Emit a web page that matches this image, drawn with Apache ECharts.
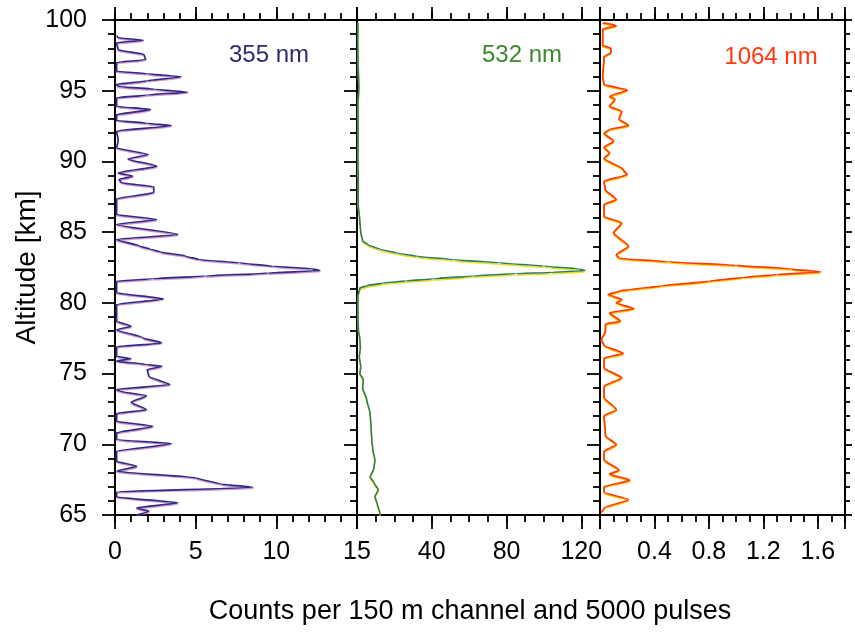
<!DOCTYPE html>
<html><head><meta charset="utf-8">
<script src="https://cdn.jsdelivr.net/npm/echarts@6/dist/echarts.min.js"></script>
<style>html,body{margin:0;padding:0;background:#fff}#c{width:855px;height:636px}</style>
</head><body><div id="c"></div>
<script>
// ---- data ----
const altitudeTicks = [65, 70, 75, 80, 85, 90, 95, 100];
const ticks355 = [0, 5, 10, 15];
const ticks532 = [40, 80, 120];
const ticks1064 = [0.4, 0.8, 1.2, 1.6];
const panelLabels = ['355 nm', '532 nm', '1064 nm'];
const yTitle = 'Altitude [km]';
const xTitle = 'Counts per 150 m channel and 5000 pulses';

const alt355 = [98.9,98.75,98.57,98.39,97.9,97.56,97.2,97.0,96.38,96.2,95.98,95.7,95.44,95.3,95.1,94.9,94.7,94.5,93.9,93.67,93.3,92.9,92.7,92.54,92.14,91.5,90.96,90.49,90.18,89.66,89.19,88.95,88.72,88.5,88.2,87.8,87.35,86.25,85.89,85.54,84.83,84.48,84.0,83.8,83.6,83.3,83.06,82.83,82.58,82.42,82.28,82.1,81.9,81.7,81.53,80.71,80.28,79.88,78.7,78.35,78.1,77.52,77.17,76.89,76.22,76.06,75.88,75.64,75.52,75.28,74.81,74.22,73.87,73.75,73.44,72.97,72.45,72.17,71.63,71.27,70.8,70.33,70.05,69.5,68.8,68.44,68.09,67.62,67.2,66.96,66.63,66.28,65.86,65.5,65.26,65.0];
const cnt355 = [0.1,0.2,1.75,0.1,0.2,1.8,1.9,0.1,0.1,2.0,4.1,2.0,0.1,0.2,2.5,4.5,2.0,0.1,0.1,2.2,0.1,0.1,2.0,3.5,0.1,0.2,0.1,2.05,0.8,2.6,0.2,1.1,0.25,0.4,2.4,2.4,0.1,0.1,2.6,0.1,3.9,0.1,1.55,2.2,2.8,4.4,5.2,7.7,9.8,12.2,12.7,9.5,5.6,2.3,0.1,0.1,3.0,0.1,0.1,1.0,0.1,1.75,2.9,0.1,0.1,1.0,0.1,1.95,2.9,2.0,2.1,3.4,0.1,0.3,1.95,1.0,1.95,0.1,0.1,2.35,0.1,0.1,3.5,0.1,0.1,1.35,0.1,5.05,6.5,8.55,0.1,0.1,3.9,1.35,2.1,1.3];

const alt532 = [99.8,98.5,97,95.2,94,92,90,88.5,87,85.8,85.0,84.4,84.1,83.8,83.5,83.3,83.05,82.83,82.6,82.4,82.28,82.15,82.07,81.9,81.7,81.55,81.41,81.2,81.06,80.5,79.5,78.6,78.0,77.5,76.8,76.2,75.5,75.0,74.58,74.0,73.16,72.2,71.3,70.33,69.6,68.9,68.3,67.7,67.2,66.8,66.3,65.7,65.15,65.0];
const cnt532 = [0.5,0.4,0.6,1.0,0.5,0.6,0.5,0.7,0.6,1.5,2.0,3.0,6,12,22,32,52,76,100,119,122,104,85,62,41,26,14,5,1.6,0.5,0.5,0.6,0.8,1.5,1.8,1.2,2.0,1.5,3.4,3.0,5.2,7.0,7.5,7.9,8.5,9.6,9.0,7.0,9.5,11.4,9.6,11.0,12.3,12.0];

const alt1064 = [99.8,99.6,99.35,98.2,98.0,97.7,97.4,96.0,95.44,95.04,94.6,94.4,93.9,93.55,93.0,92.54,92.26,92.0,91.43,91.0,90.6,90.2,89.43,89.07,88.6,88.0,87.3,86.95,86.1,85.66,84.95,84.0,83.4,83.15,82.9,82.65,82.4,82.18,82.0,81.8,81.53,81.2,80.94,80.85,80.6,80.23,80.0,79.58,79.3,78.7,78.5,78.0,77.4,77.0,76.42,76.1,75.4,74.7,74.1,73.3,72.45,72.0,70.6,69.98,69.5,68.9,68.17,67.9,67.46,67.0,66.6,66.09,65.5,65.2];
const cnt1064 = [0.02,0.12,0.02,0.02,0.08,0.08,0.03,0.02,0.03,0.2,0.07,0.11,0.07,0.16,0.14,0.21,0.07,0.03,0.1,0.03,0.07,0.03,0.17,0.2,0.03,0.04,0.12,0.03,0.03,0.16,0.1,0.21,0.12,0.14,0.5,1.0,1.4,1.62,1.3,1.05,0.8,0.45,0.22,0.15,0.06,0.16,0.12,0.25,0.07,0.15,0.04,0.04,0.01,0.03,0.17,0.03,0.03,0.16,0.03,0.03,0.12,0.03,0.04,0.12,0.03,0.03,0.14,0.07,0.22,0.03,0.03,0.21,0.03,0.01];

// ---- chart ----
const FONT = 'Liberation Sans, Arial, sans-serif';
const chart = echarts.init(document.getElementById('c'), null, {renderer: 'canvas'});
const axisLineStyle = {color: '#000', width: 2};
const tickStyle = {color: '#000', width: 1.8};

const panels = [
  {left: 115, width: 242, min: 0, max: 15, major: 5, minor: 1, labels: ticks355},
  {left: 357, width: 243, min: 0, max: 130, major: 40, minor: 10, labels: ticks532},
  {left: 600, width: 245, min: 0, max: 1.8, major: 0.4, minor: 0.1, labels: ticks1064}
];

const grid = panels.map(p => ({left: p.left, width: p.width, top: 20, height: 495, containLabel: false}));
const xAxis = [];
const yAxis = [];
panels.forEach((p, i) => {
  const fmt = v => { const t = p.labels.find(t => Math.abs(t - v) < 1e-6); return t === undefined ? '' : String(t); };
  const base = {gridIndex: i, type: 'value', min: p.min, max: p.max, splitLine: {show: false}};
  xAxis.push(Object.assign({}, base, {position: 'bottom', interval: p.major,
    axisLine: {show: true, onZero: false, lineStyle: axisLineStyle},
    axisTick: {show: true, length: 14, lineStyle: tickStyle},
    axisLabel: {show: true, margin: 25, fontSize: 25, color: '#000', fontFamily: FONT, formatter: fmt, showMinLabel: true, showMaxLabel: true, hideOverlap: false}}));
  xAxis.push(Object.assign({}, base, {position: 'bottom', interval: p.minor,
    axisLine: {show: false, onZero: false}, axisTick: {show: true, length: 7, lineStyle: tickStyle}, axisLabel: {show: false}}));
  xAxis.push(Object.assign({}, base, {position: 'top', interval: p.major,
    axisLine: {show: true, onZero: false, lineStyle: axisLineStyle},
    axisTick: {show: true, length: 13, lineStyle: tickStyle}, axisLabel: {show: false}}));
  xAxis.push(Object.assign({}, base, {position: 'top', interval: p.minor,
    axisLine: {show: false, onZero: false}, axisTick: {show: true, length: 7, lineStyle: tickStyle}, axisLabel: {show: false}}));
  yAxis.push({gridIndex: i, type: 'value', position: 'left', min: 65, max: 100, interval: 5,
    splitLine: {show: false},
    axisLine: {show: true, onZero: false, lineStyle: axisLineStyle},
    axisTick: {show: true, length: 13, lineStyle: tickStyle},
    minorTick: {show: true, splitNumber: 5, length: 7, lineStyle: tickStyle},
    axisLabel: {show: i === 0, margin: 28, fontSize: 25, color: '#000', fontFamily: FONT,
      formatter: v => altitudeTicks.includes(v) ? String(v) : ''},
    name: i === 0 ? yTitle : '', nameLocation: 'middle', nameGap: 74, nameRotate: 90,
    nameTextStyle: {fontSize: 28, color: '#000', fontFamily: FONT}
  });
});
yAxis.push({gridIndex: 2, type: 'value', position: 'right', min: 65, max: 100, interval: 5,
  splitLine: {show: false},
  axisLine: {show: true, onZero: false, lineStyle: axisLineStyle},
  axisTick: {show: true, length: 7, lineStyle: tickStyle},
  minorTick: {show: true, splitNumber: 5, length: 5, lineStyle: tickStyle},
  axisLabel: {show: false}});

const mk = (alts, vals) => alts.map((a, k) => [vals[k], a]);

const option = {
  animation: false,
  backgroundColor: '#fff',
  grid, xAxis, yAxis,
  series: [
    {type: 'line', xAxisIndex: 0, yAxisIndex: 0, data: mk(alt355, cnt355), symbol: 'none', z: 5, smooth: 0.2, smoothMonotone: 'y',
      lineStyle: {color: '#2d2c84', width: 1.6, shadowColor: 'rgba(190,70,160,0.55)', shadowOffsetY: 1.2, shadowBlur: 0}},
    {type: 'line', xAxisIndex: 4, yAxisIndex: 1, data: mk(alt532, cnt532), symbol: 'none', z: 5, smooth: 0.2, smoothMonotone: 'y',
      lineStyle: {color: '#2f7d5a', width: 1.6, shadowColor: '#e8e020', shadowOffsetY: 1.5, shadowBlur: 0}},
    {type: 'line', xAxisIndex: 8, yAxisIndex: 2, data: mk(alt1064, cnt1064), symbol: 'none', z: 5, smooth: 0.2, smoothMonotone: 'y',
      lineStyle: {color: '#ff3a0a', width: 1.7, shadowColor: '#ffcc10', shadowOffsetY: 1.2, shadowBlur: 0}}
  ],
  graphic: [
    {type: 'text', x: 269, y: 55, style: {text: panelLabels[0], textAlign: 'center', textVerticalAlign: 'middle', fontSize: 24, fill: '#2b2b6e', fontFamily: FONT}},
    {type: 'text', x: 522, y: 55, style: {text: panelLabels[1], textAlign: 'center', textVerticalAlign: 'middle', fontSize: 24, fill: '#3a8a2c', fontFamily: FONT}},
    {type: 'text', x: 771, y: 57, style: {text: panelLabels[2], textAlign: 'center', textVerticalAlign: 'middle', fontSize: 24, fill: '#ff3a10', fontFamily: FONT}},
    {type: 'text', x: 470, y: 612, style: {text: xTitle, textAlign: 'center', textVerticalAlign: 'middle', fontSize: 27, fill: '#000', fontFamily: FONT}}
  ]
};
chart.setOption(option);
</script></body></html>
